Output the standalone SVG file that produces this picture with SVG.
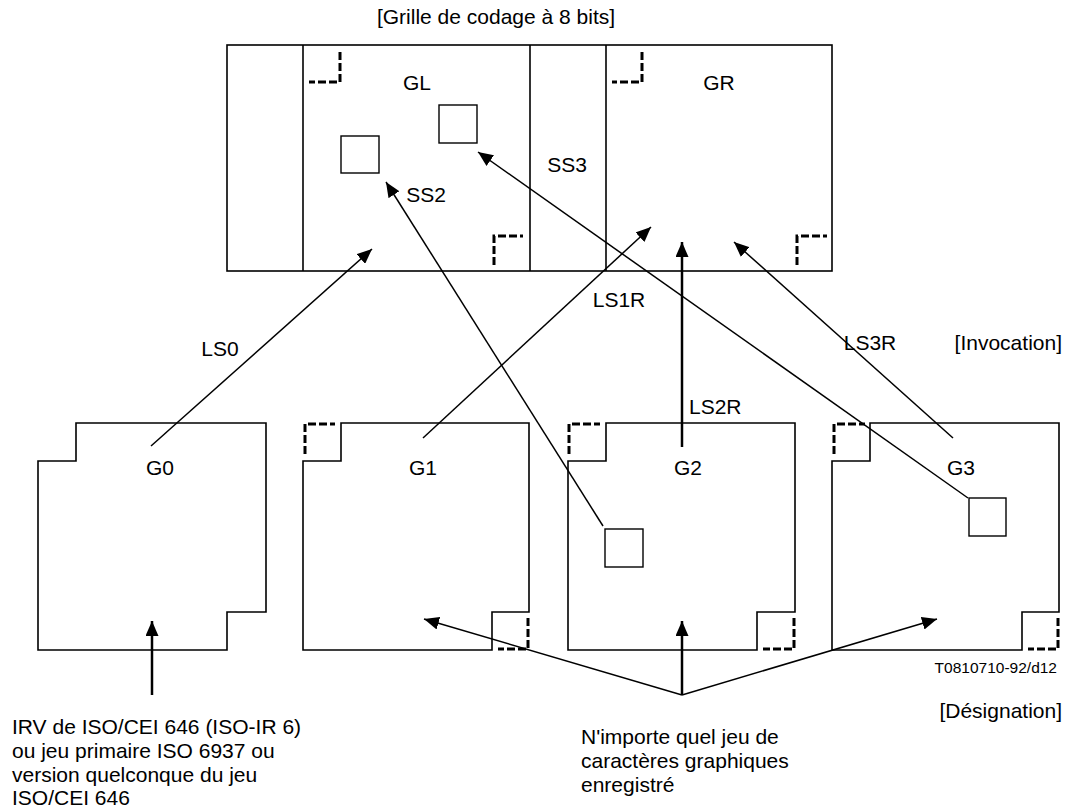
<svg xmlns="http://www.w3.org/2000/svg" width="1068" height="809" viewBox="0 0 1068 809">
<style>
text{font-family:"Liberation Sans",Arial,sans-serif;font-size:21px;fill:#000}
.box{fill:none;stroke:#000;stroke-width:1.6}
.dash{fill:none;stroke:#000;stroke-width:3;stroke-dasharray:8 3}
.conn{fill:none;stroke:#000;stroke-width:1.5}
.thick{fill:none;stroke:#000;stroke-width:2.5}
.sq{fill:#fff;stroke:#000;stroke-width:1.4}
.mid{text-anchor:middle}
.end{text-anchor:end}
.small{font-size:15.5px}
</style>
<defs>
<marker id="ah" markerUnits="userSpaceOnUse" markerWidth="16" markerHeight="13" refX="15" refY="6.5" orient="auto">
<path d="M0,0 L15,6.5 L0,13 z" fill="#000"/>
</marker>
</defs>
<g id="grid">
<rect class="box" x="227" y="45" width="605" height="226" stroke-width="2"/>
<line class="box" x1="303" y1="45" x2="303" y2="271" stroke-width="2"/>
<line class="box" x1="530" y1="45" x2="530" y2="271" stroke-width="2"/>
<line class="box" x1="606" y1="45" x2="606" y2="271" stroke-width="2"/>
<path class="dash" d="M340,52 V82 H309"/>
<path class="dash" d="M494,265 V236 H523"/>
<path class="dash" d="M642,52 V82 H612"/>
<path class="dash" d="M797,265 V236 H827"/>
<rect class="sq" x="341" y="136" width="38" height="37"/>
<rect class="sq" x="439" y="105" width="38" height="38"/>
<text class="mid" x="417" y="90">GL</text>
<text class="mid" x="719" y="90">GR</text>
<text class="mid" x="426" y="202">SS2</text>
<text class="mid" x="567" y="172">SS3</text>
<text class="mid" x="496" y="24">[Grille de codage à 8 bits]</text>
</g>
<g id="G0">
<path class="box" d="M76,423 H266 V612 H227 V650 H38 V461 H76 Z"/>
<text class="mid" x="160" y="475">G0</text>
</g>
<g id="G1">
<path class="box" d="M341,423 H529 V612 H492 V650 H303 V461 H341 Z"/>
<path class="dash" d="M305,454 V424 H335"/>
<path class="dash" d="M528,618 V649 H498"/>
<text class="mid" x="423" y="475">G1</text>
</g>
<g id="G2">
<path class="box" d="M606,423 H795 V612 H757 V650 H568 V461 H606 Z"/>
<path class="dash" d="M569,454 V424 H600"/>
<path class="dash" d="M794,618 V649 H763"/>
<rect class="sq" x="605" y="529" width="38" height="38"/>
<text class="mid" x="688" y="475">G2</text>
</g>
<g id="G3">
<path class="box" d="M870,423 H1059 V612 H1022 V650 H832 V461 H870 Z"/>
<path class="dash" d="M834,454 V424 H865"/>
<path class="dash" d="M1058,618 V649 H1028"/>
<rect class="sq" x="969" y="498" width="37" height="38"/>
<text class="mid" x="961" y="475">G3</text>
</g>
<g id="connectors">
<line class="conn" x1="151" y1="446" x2="372" y2="249" marker-end="url(#ah)"/>
<line class="conn" x1="603" y1="526" x2="386" y2="182" marker-end="url(#ah)"/>
<line class="conn" x1="968" y1="498" x2="478" y2="152" marker-end="url(#ah)"/>
<line class="conn" x1="423" y1="438" x2="651" y2="227" marker-end="url(#ah)"/>
<line class="thick" x1="682" y1="447" x2="682" y2="242" stroke-width="2" marker-end="url(#ah)"/>
<line class="conn" x1="953" y1="438" x2="734" y2="242" marker-end="url(#ah)"/>
<line class="thick" x1="152" y1="695" x2="152" y2="621" marker-end="url(#ah)"/>
<line class="thick" x1="682" y1="695" x2="682" y2="621" marker-end="url(#ah)"/>
<line class="conn" x1="682" y1="695" x2="424" y2="619" marker-end="url(#ah)"/>
<line class="conn" x1="682" y1="695" x2="937" y2="619" marker-end="url(#ah)"/>
</g>
<g id="labels">
<text class="mid" x="220" y="356">LS0</text>
<text class="mid" x="619" y="307">LS1R</text>
<text x="689" y="414">LS2R</text>
<text class="mid" x="870" y="350">LS3R</text>
<text class="end" x="1062" y="350">[Invocation]</text>
<text class="end small" x="1057" y="673">T0810710-92/d12</text>
<text class="end" x="1062" y="718">[Désignation]</text>
<text x="12" y="734">IRV de ISO/CEI 646 (ISO-IR 6)</text>
<text x="12" y="758">ou jeu primaire ISO 6937 ou</text>
<text x="12" y="782">version quelconque du jeu</text>
<text x="12" y="805">ISO/CEI 646</text>
<text x="581" y="744">N'importe quel jeu de</text>
<text x="581" y="768">caractères graphiques</text>
<text x="581" y="792">enregistré</text>
</g>
</svg>
